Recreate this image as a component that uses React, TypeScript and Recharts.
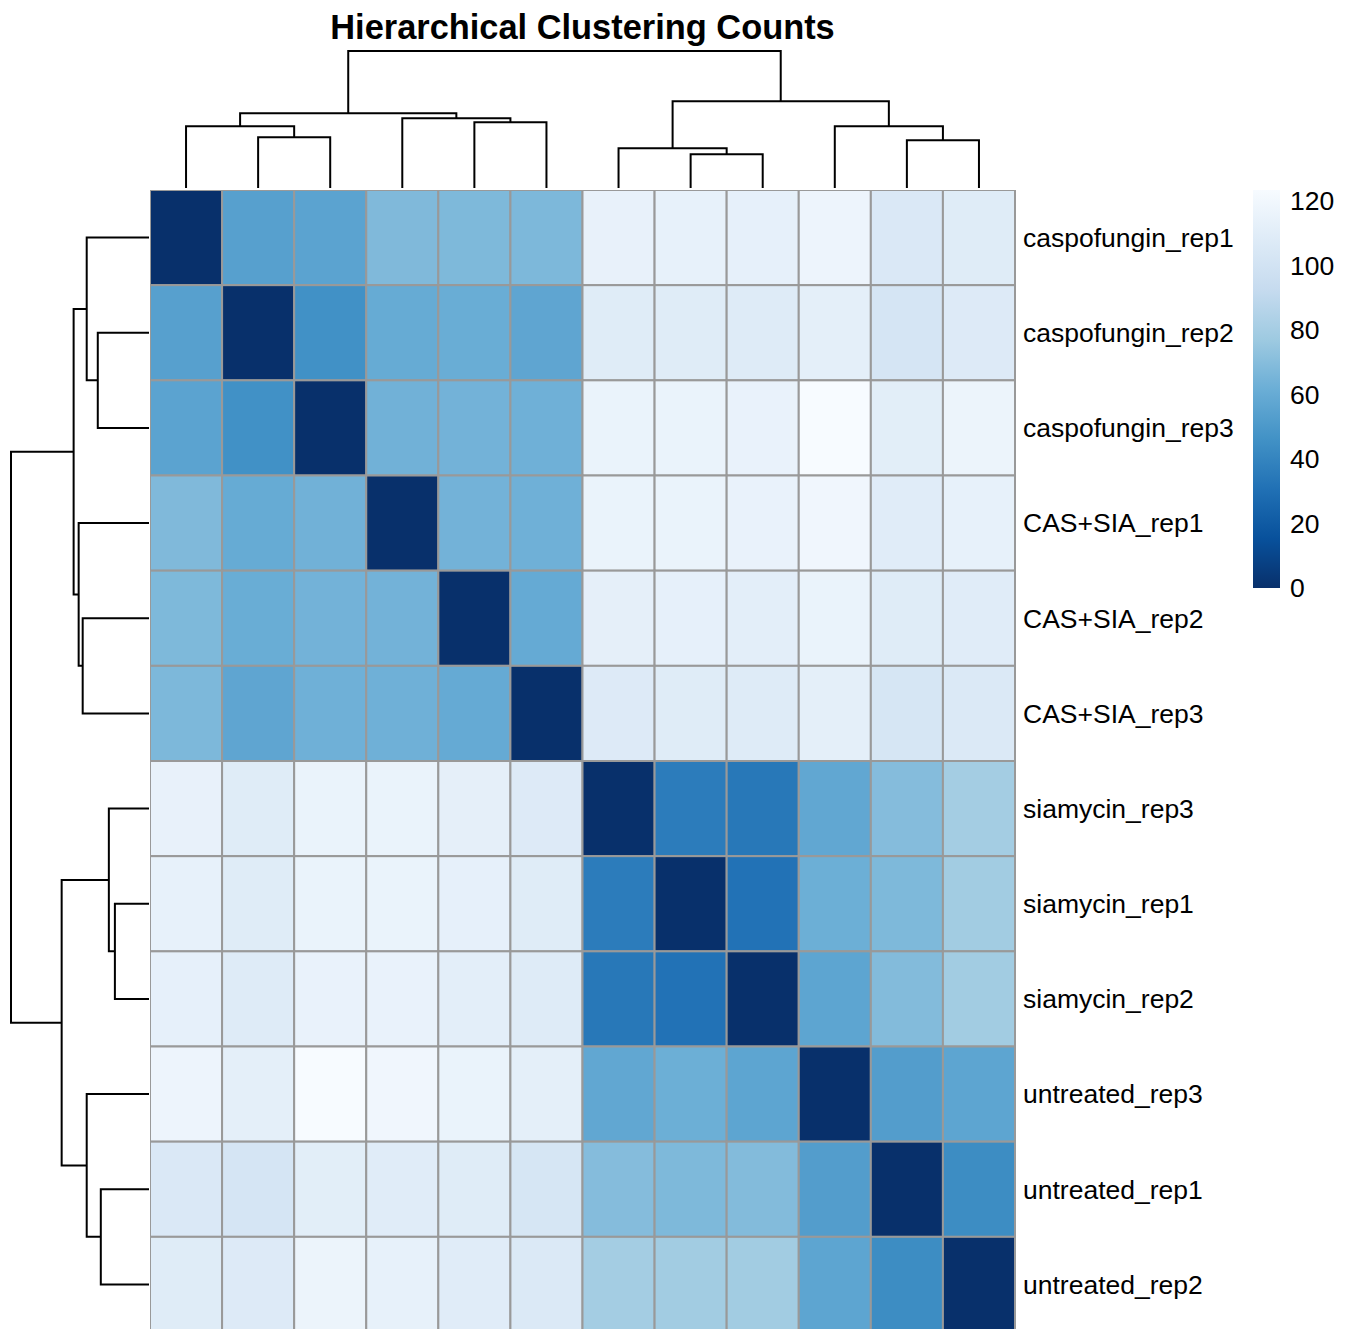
import { ScatterChart, Scatter, XAxis, YAxis, BarChart, Bar } from "recharts";

// sample order as displayed (rows and columns share it)
const samples = [
  "caspofungin_rep1", "caspofungin_rep2", "caspofungin_rep3",
  "CAS+SIA_rep1", "CAS+SIA_rep2", "CAS+SIA_rep3",
  "siamycin_rep3", "siamycin_rep1", "siamycin_rep2",
  "untreated_rep3", "untreated_rep1", "untreated_rep2",
];

// sample distance rows, same column order as `samples`
const casp1 = [0, 54, 55.5, 68, 67.5, 67, 114.2, 113.5, 113, 117, 105.4, 108.6];
const casp2 = [54, 0, 46, 60, 61, 57, 108.6, 108.6, 108, 111.7, 102.2, 107.4];
const casp3 = [55.5, 46, 0, 63.5, 64, 63, 115.4, 115.4, 114.8, 123.4, 110.5, 116.6];
const cas1 = [68, 60, 63.5, 0, 64, 63, 115.4, 115.4, 114.8, 119, 109.2, 113.5];
const cas2 = [67.5, 61, 64, 64, 0, 59.5, 112.3, 113, 111, 115.4, 108.6, 109.2];
const cas3 = [67, 57, 63, 63, 59.5, 0, 107.4, 108.6, 108, 111.7, 102.8, 106];
const sia3 = [114.2, 108.6, 115.4, 115.4, 112.3, 107.4, 0, 36, 34, 58, 69.5, 79.5];
const sia1 = [113.5, 108.6, 115.4, 115.4, 113, 108.6, 36, 0, 31.5, 62, 67.5, 78.5];
const sia2 = [113, 108, 114.8, 114.8, 111, 108, 34, 31.5, 0, 56.5, 69, 78.5];
const unt3 = [117, 111.7, 123.4, 119, 115.4, 111.7, 58, 62, 56.5, 0, 52.5, 56.5];
const unt1 = [105.4, 102.2, 110.5, 109.2, 108.6, 102.8, 69.5, 67.5, 69, 52.5, 0, 44];
const unt2 = [108.6, 107.4, 116.6, 113.5, 109.2, 106, 79.5, 78.5, 78.5, 56.5, 44, 0];
const distRows = [casp1, casp2, casp3, cas1, cas2, cas3, sia3, sia1, sia2, unt3, unt1, unt2];

// hclust-style merges: negative = leaf (1-based display position), positive = earlier merge
const merges: [number, number, number][] = [
  [-2, -3, 45.8],
  [-1, 1, 55.7],
  [-5, -6, 59.3],
  [-4, 3, 62.9],
  [2, 4, 67.4],
  [-8, -9, 30.5],
  [-7, 6, 35.9],
  [-11, -12, 43.1],
  [-10, 8, 55.7],
  [7, 9, 78.1],
  [5, 10, 123.4],
];

const legendTicks = [0, 20, 40, 60, 80, 100, 120];

const BLUES = ["#08306B", "#08519C", "#2171B5", "#4292C6", "#6BAED6", "#9ECAE1", "#C6DBEF", "#DEEBF7", "#F7FBFF"];
const VMAX = Math.max(...distRows.flat());

const HM_LEFT = 150;
const HM_TOP = 190;
const HM_W = 865;
const HM_H = 1142;
const CELL_W = HM_W / samples.length;
const CELL_H = HM_H / samples.length;
const LABEL_W = 240;
const FONT = "'Liberation Sans', Arial, Helvetica, sans-serif";

function hexToRgb(h: string) {
  return [1, 3, 5].map((i) => parseInt(h.slice(i, i + 2), 16));
}

function blues(v: number) {
  const t = Math.max(0, Math.min(1, v / VMAX)) * (BLUES.length - 1);
  const i = Math.min(BLUES.length - 2, Math.floor(t));
  const f = t - i;
  const a = hexToRgb(BLUES[i]);
  const b = hexToRgb(BLUES[i + 1]);
  const c = a.map((x, k) => Math.round(x + (b[k] - x) * f));
  return `rgb(${c[0]},${c[1]},${c[2]})`;
}

const cells = distRows.flatMap((row, r) =>
  row.map((v, c) => ({ x: c + 0.5, y: r + 0.5, v }))
);

// each merge becomes a U-shaped path: child A up, across, down to child B
function buildLinks() {
  const pos: number[] = [];
  const hts: number[] = [];
  return merges.map(([a, b, h], k) => {
    const pa = a < 0 ? -a - 0.5 : pos[a - 1];
    const ha = a < 0 ? 0 : hts[a - 1];
    const pb = b < 0 ? -b - 0.5 : pos[b - 1];
    const hb = b < 0 ? 0 : hts[b - 1];
    pos[k] = (pa + pb) / 2;
    hts[k] = h;
    return [
      { p: pa, h: ha },
      { p: pa, h },
      { p: pb, h },
      { p: pb, h: hb },
    ];
  });
}
const links = buildLinks();

const noDot = () => <g />;

const CellShape = (props: any) => {
  const { cx, cy, payload } = props;
  return (
    <rect
      x={cx - CELL_W / 2}
      y={cy - CELL_H / 2}
      width={CELL_W}
      height={CELL_H}
      fill={blues(payload.v)}
      stroke="#999999"
      strokeWidth={2}
    />
  );
};

const PAD = 4;
const LEG_PAD = 16;

export default function App() {
  const n = samples.length;
  const ticks = samples.map((_, i) => i + 0.5);
  return (
    <div
      style={{
        position: "absolute",
        left: 0,
        top: 0,
        width: 1349,
        height: 1329,
        overflow: "hidden",
        background: "#fff",
        fontFamily: FONT,
      }}
    >
      <svg width={1349} height={60} style={{ position: "absolute", left: 0, top: 0 }}>
        <text
          x={HM_LEFT + HM_W / 2}
          y={39}
          textAnchor="middle"
          fontSize={34.4}
          fontWeight="bold"
          fill="#000"
          fontFamily={FONT}
        >
          Hierarchical Clustering Counts
        </text>
      </svg>

      {/* column dendrogram */}
      <div style={{ position: "absolute", left: HM_LEFT - PAD, top: 51 - PAD }}>
        <ScatterChart
          width={HM_W + PAD * 2}
          height={137 + PAD * 2}
          margin={{ top: PAD, right: PAD, bottom: PAD, left: PAD }}
        >
          <XAxis type="number" dataKey="p" domain={[0, n]} hide />
          <YAxis type="number" dataKey="h" domain={[0, VMAX]} hide />
          {links.map((pts, i) => (
            <Scatter
              key={`c-${i}`}
              data={pts}
              fill="#000"
              line={{ stroke: "#000", strokeWidth: 2 }}
              shape={noDot}
              isAnimationActive={false}
            />
          ))}
        </ScatterChart>
      </div>

      {/* row dendrogram */}
      <div style={{ position: "absolute", left: 11 - PAD, top: HM_TOP - PAD }}>
        <ScatterChart
          width={138 + PAD * 2}
          height={HM_H + PAD * 2}
          margin={{ top: PAD, right: PAD, bottom: PAD, left: PAD }}
        >
          <XAxis type="number" dataKey="h" domain={[0, VMAX]} reversed hide />
          <YAxis type="number" dataKey="p" domain={[0, n]} reversed hide />
          {links.map((pts, i) => (
            <Scatter
              key={`r-${i}`}
              data={pts}
              fill="#000"
              line={{ stroke: "#000", strokeWidth: 2 }}
              shape={noDot}
              isAnimationActive={false}
            />
          ))}
        </ScatterChart>
      </div>

      {/* heatmap + row labels */}
      <div style={{ position: "absolute", left: HM_LEFT, top: HM_TOP }}>
        <ScatterChart
          width={HM_W + LABEL_W}
          height={HM_H}
          margin={{ top: 0, right: 0, bottom: 0, left: 0 }}
        >
          <XAxis type="number" dataKey="x" domain={[0, n]} hide />
          <YAxis
            type="number"
            dataKey="y"
            domain={[0, n]}
            reversed
            orientation="right"
            width={LABEL_W}
            ticks={ticks}
            interval={0}
            tickFormatter={(v: number) => samples[Math.floor(v)]}
            axisLine={false}
            tickLine={false}
            tickSize={0}
            tickMargin={8}
            tick={{ fill: "#000", fontSize: 26.5, fontFamily: FONT }}
          />
          <Scatter data={cells} shape={CellShape} isAnimationActive={false} />
        </ScatterChart>
      </div>

      {/* colour legend */}
      <div style={{ position: "absolute", left: 1253, top: 190 - LEG_PAD }}>
        <BarChart
          width={27 + 70}
          height={398 + LEG_PAD * 2}
          data={[{ k: "scale", v: VMAX }]}
          margin={{ top: LEG_PAD, right: 0, bottom: LEG_PAD, left: 0 }}
          barCategoryGap={0}
        >
          <defs>
            <linearGradient id="bluesGrad" x1="0" y1="1" x2="0" y2="0">
              {BLUES.map((c, i) => (
                <stop key={c} offset={`${(i / (BLUES.length - 1)) * 100}%`} stopColor={c} />
              ))}
            </linearGradient>
          </defs>
          <XAxis dataKey="k" hide />
          <YAxis
            type="number"
            domain={[0, VMAX]}
            orientation="right"
            width={70}
            ticks={legendTicks}
            interval={0}
            axisLine={false}
            tickLine={false}
            tickSize={0}
            tickMargin={10}
            tick={{ fill: "#000", fontSize: 26.5, fontFamily: FONT }}
          />
          <Bar dataKey="v" fill="url(#bluesGrad)" isAnimationActive={false} />
        </BarChart>
      </div>
    </div>
  );
}
